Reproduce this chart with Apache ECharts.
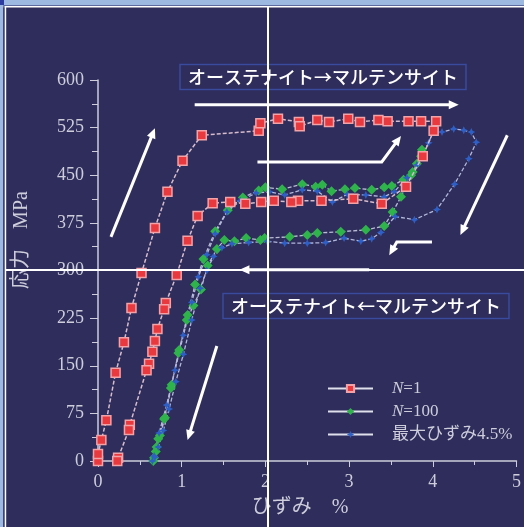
<!DOCTYPE html>
<html>
<head>
<meta charset="utf-8">
<script src="https://cdn.jsdelivr.net/npm/echarts@6/dist/echarts.min.js"></script>
<style>
  html, body { margin: 0; padding: 0; background: #2e2d5b; }
  #chart { width: 524px; height: 527px; }
</style>
</head>
<body>
<div id="chart"></div>
<script>
// Stress–strain loops of a superelastic alloy (strain %, stress MPa)
const seriesNames = ['N=1', 'N=100', '最大ひずみ4.5%'];

const strainN1 = [0, 0, 0.04, 0.1, 0.21, 0.31, 0.4, 0.52, 0.68, 0.83, 1.01, 1.24, 1.92, 1.94, 2.15, 2.4, 2.41, 2.62, 2.76, 2.99, 3.13, 3.35, 3.46, 3.71, 3.86, 4.04,
  4.01, 3.88, 3.68, 3.39, 3.05, 2.67, 2.39, 2.31, 2.1, 1.95, 1.76, 1.58, 1.37, 1.19, 1.07, 0.94, 0.81, 0.79, 0.71, 0.68, 0.65, 0.61, 0.58, 0.38, 0.37, 0.24, 0.23];
const stressN1 = [0, 11, 33, 64, 139, 187, 241, 296, 367, 424, 473, 513, 520, 532, 539, 534, 527, 537, 534, 539, 534, 537, 535, 535, 535, 535,
  520, 480, 432, 405, 413, 410, 410, 408, 410, 408, 405, 408, 406, 386, 347, 293, 249, 239, 208, 189, 172, 153, 143, 57, 49, 5, 0];

const strainN100 = [0.66, 0.69, 0.72, 0.79, 0.87, 0.97, 1.07, 1.16, 1.26, 1.4, 1.55, 1.73, 1.92, 2.0, 2.2, 2.44, 2.6, 2.68, 2.79, 2.95, 3.07, 3.27, 3.42, 3.51, 3.65, 3.76, 3.81, 3.87,
  3.86, 3.74, 3.62, 3.52, 3.42, 3.2, 2.9, 2.62, 2.5, 2.29, 1.99, 1.94, 1.77, 1.63, 1.51, 1.42, 1.31, 1.23, 1.14, 1.06, 0.96, 0.88, 0.8, 0.74, 0.7, 0.67];
const stressN100 = [0, 15, 35, 66, 115, 175, 230, 278, 318, 362, 395, 415, 426, 431, 428, 436, 432, 435, 425, 428, 430, 427, 431, 433, 443, 455, 468, 490,
  480, 450, 416, 392, 370, 364, 361, 359, 356, 353, 351, 348, 351, 346, 348, 334, 308, 270, 245, 222, 170, 120, 68, 40, 22, 5];

const strainMax45 = [0.65, 0.67, 0.73, 0.82, 0.92, 1.02, 1.12, 1.2, 1.3, 1.4, 1.54, 1.7, 1.89, 2.05, 2.23, 2.44, 2.62, 2.8, 2.98, 3.2, 3.42, 3.54, 3.69, 3.81, 3.95, 4.01, 4.11, 4.25, 4.37, 4.46, 4.52,
  4.43, 4.26, 4.05, 3.78, 3.55, 3.38, 3.27, 3.14, 2.94, 2.72, 2.5, 2.23, 2.02, 1.8, 1.6, 1.48, 1.38, 1.3, 1.22, 1.12, 1.02, 0.93, 0.85, 0.78, 0.72, 0.68];
const stressMax45 = [0, 8, 44, 88, 143, 198, 250, 290, 325, 358, 392, 410, 422, 424, 419, 427, 425, 408, 420, 419, 416, 424, 446, 466, 501, 521, 518, 523, 521, 518, 502,
  476, 436, 396, 380, 385, 360, 350, 346, 351, 344, 343, 343, 346, 344, 342, 336, 322, 300, 272, 222, 168, 125, 82, 48, 22, 6];

const xTicks = [0, 1, 2, 3, 4, 5];
const yTicks = [0, 75, 150, 225, 300, 375, 450, 525, 600];

const labelForward = 'オーステナイト→マルテンサイト';
const labelReverse = 'オーステナイト←マルテンサイト';
const xName = 'ひずみ　%';
const yName = '応力　MPa';

// Direction arrows, given in axis units (strain %, stress MPa)
const arrowPaths = [
  [[0.155, 353], [0.68, 524]],
  [[1.155, 561], [4.31, 561]],
  [[1.905, 471], [3.39, 471], [3.62, 512]],
  [[4.89, 513], [4.33, 356]],
  [[3.99, 345], [3.57, 345], [3.48, 324]],
  [[3.24, 301], [1.69, 301]],
  [[1.42, 181], [1.07, 33]]
];

const zip = (xs, ys) => xs.map((x, i) => [x, ys[i]]);

const serif = '"Liberation Serif", "Times New Roman", "Noto Sans CJK JP", serif';
const cjk = '"Noto Sans CJK JP", "Noto Sans", sans-serif';
const axisColor = '#cdcddc';

const chart = echarts.init(document.getElementById('chart'));

const option = {
  backgroundColor: '#2e2d5b',
  animation: false,
  grid: { left: 98, right: 6, top: 80, bottom: 66 },
  xAxis: {
    type: 'value', min: xTicks[0], max: xTicks[xTicks.length - 1], interval: 1,
    axisLine: { lineStyle: { color: axisColor, width: 1.5 } },
    axisTick: { show: true, length: 6, lineStyle: { color: axisColor } },
    minorTick: { show: true, splitNumber: 2, length: 4, lineStyle: { color: axisColor } },
    splitLine: { show: false },
    axisLabel: { color: axisColor, fontFamily: serif, fontSize: 18, margin: 12 }
  },
  yAxis: {
    type: 'value', min: yTicks[0], max: yTicks[yTicks.length - 1], interval: 75,
    axisLine: { show: true, lineStyle: { color: axisColor, width: 1.5 } },
    axisTick: { show: true, length: 8, lineStyle: { color: axisColor } },
    minorTick: { show: true, splitNumber: 2, length: 6, lineStyle: { color: axisColor } },
    splitLine: { show: false },
    axisLabel: { color: axisColor, fontFamily: serif, fontSize: 18, margin: 14 }
  },
  legend: {
    orient: 'vertical', left: 322, top: 375,
    itemWidth: 45, itemHeight: 9, itemGap: 6,
    data: seriesNames,
    textStyle: {
      color: axisColor, fontFamily: serif, fontSize: 17, lineHeight: 17, padding: [0, 0, 0, 14],
      rich: {
        i: { fontStyle: 'italic', fontFamily: serif, fontSize: 17, lineHeight: 17, color: axisColor }
      }
    },
    lineStyle: { type: 'solid', color: '#e0e0ec', width: 2 },
    formatter: name => name.startsWith('N=') ? '{i|N}' + name.slice(1) : name
  },
  series: [
    {
      name: seriesNames[0], type: 'line', data: zip(strainN1, stressN1),
      symbol: 'rect', symbolSize: 9,
      itemStyle: { color: '#e8393f', borderColor: '#f3a3a8', borderWidth: 1.5 },
      lineStyle: { type: [4, 2], color: '#d6bccd', width: 1.5 },
      z: 3
    },
    {
      name: seriesNames[1], type: 'line', data: zip(strainN100, stressN100),
      symbol: 'diamond', symbolSize: 10,
      itemStyle: { color: '#2fb34b' },
      lineStyle: { type: [4, 2], color: '#bcbcd8', width: 1.3 },
      z: 2
    },
    {
      name: seriesNames[2], type: 'line', data: zip(strainMax45, stressMax45),
      symbol: 'path://M0,-5L1.6,-1.6L5,0L1.6,1.6L0,5L-1.6,1.6L-5,0L-1.6,-1.6Z', symbolSize: 8,
      itemStyle: { color: '#2e5fc6' },
      lineStyle: { type: [4, 2], color: '#b4b8dc', width: 1.3 },
      z: 2
    }
  ]
};

chart.setOption(option);

// Build annotation graphics once the axes exist
const graphics = [];

function arrow(path) {
  const pts = path.map(p => chart.convertToPixel({ gridIndex: 0 }, p));
  const n = pts.length;
  const [x1, y1] = pts[n - 2];
  const [x2, y2] = pts[n - 1];
  const ang = Math.atan2(y2 - y1, x2 - x1);
  const headLen = 10, headHalf = 4.5;
  const bx = x2 - headLen * Math.cos(ang), by = y2 - headLen * Math.sin(ang);
  const shaft = pts.slice(0, n - 1).concat([[bx + Math.cos(ang), by + Math.sin(ang)]]);
  graphics.push({
    type: 'polyline', shape: { points: shaft }, z: 50,
    style: { stroke: '#ffffff', lineWidth: 3, fill: null, lineJoin: 'miter' }
  });
  graphics.push({
    type: 'polygon', z: 50,
    shape: {
      points: [
        [x2, y2],
        [bx + headHalf * Math.sin(ang), by - headHalf * Math.cos(ang)],
        [bx - headHalf * Math.sin(ang), by + headHalf * Math.cos(ang)]
      ]
    },
    style: { fill: '#ffffff' }
  });
}
arrowPaths.forEach(arrow);

// Transformation direction captions
function caption(text, cx, cy) {
  graphics.push({
    type: 'text', x: cx, y: cy, z: 40,
    style: {
      text: text, fill: '#ffffff', font: '500 18px ' + cjk,
      textAlign: 'center', textVerticalAlign: 'middle',
      borderColor: '#3a4a9c', borderWidth: 1.5, padding: [4, 8, 3, 8]
    }
  });
}
caption(labelForward, 323, 77);
caption(labelReverse, 366, 306);

// Axis titles
graphics.push({
  type: 'text', x: 300, y: 508, z: 40,
  style: { text: xName, fill: axisColor, font: '20px ' + serif, textAlign: 'center', textVerticalAlign: 'middle' }
});
graphics.push({
  type: 'text', x: 22, y: 240, rotation: Math.PI / 2, z: 40,
  style: { text: yName, fill: axisColor, font: '20px ' + serif, textAlign: 'center', textVerticalAlign: 'middle' }
});

// Window frame and guide lines
graphics.push({ type: 'rect', shape: { x: 0, y: 0, width: 524, height: 5 }, style: { fill: '#9db9e2' }, z: 90 });
graphics.push({ type: 'rect', shape: { x: 0, y: 5, width: 524, height: 1 }, style: { fill: '#5d6aa0' }, z: 90 });
graphics.push({ type: 'rect', shape: { x: 0, y: 6, width: 524, height: 1.5 }, style: { fill: '#ffffff' }, z: 90 });
graphics.push({ type: 'rect', shape: { x: 0, y: 0, width: 3.3, height: 527 }, style: { fill: '#9db9e2' }, z: 90 });
graphics.push({ type: 'rect', shape: { x: 3.3, y: 6, width: 1.4, height: 521 }, style: { fill: '#3b3f74' }, z: 90 });
graphics.push({ type: 'rect', shape: { x: 4.7, y: 6, width: 1.5, height: 521 }, style: { fill: '#ffffff' }, z: 90 });
graphics.push({ type: 'rect', shape: { x: 0, y: 0, width: 4, height: 5 }, style: { fill: '#2b3c9e' }, z: 91 });
graphics.push({ type: 'rect', shape: { x: 267, y: 6, width: 2, height: 521 }, style: { fill: '#ffffff' }, z: 95 });
graphics.push({ type: 'rect', shape: { x: 6, y: 269, width: 518, height: 2 }, style: { fill: '#ffffff' }, z: 95 });

chart.setOption({ graphic: graphics });
</script>
</body>
</html>
